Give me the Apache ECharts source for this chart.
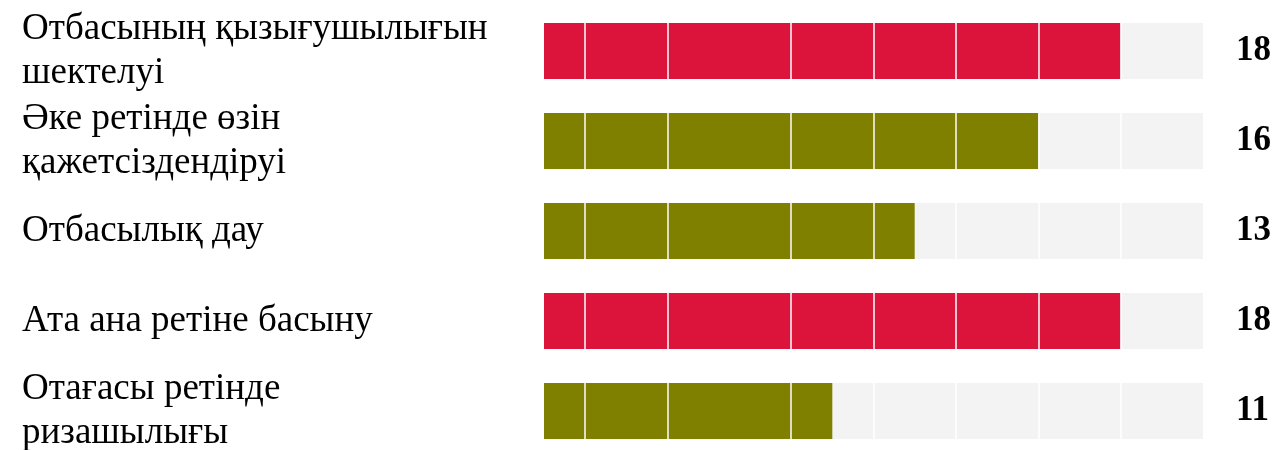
<!DOCTYPE html>
<html>
<head>
<meta charset="utf-8">
<script src="https://cdn.jsdelivr.net/npm/echarts@6/dist/echarts.min.js"></script>
<style>
html,body{margin:0;padding:0;background:#fff;overflow:hidden;width:1276px;height:450px;}
#chart{width:1276px;height:460px;}
</style>
</head>
<body>
<div id="chart"></div>
<script>
const categories = [
  'Отбасының қызығушылығын\nшектелуі',
  'Әке ретінде өзін\nқажетсіздендіруі',
  'Отбасылық дау',
  'Ата ана ретіне басыну',
  'Отағасы ретінде\nризашылығы'
];
const values = [18, 16, 13, 18, 11];
const trackMax = 20;
const axisMin = 4;
const gridValues = [5, 7, 10, 12, 14, 16, 18];

const RED = '#DC143C';
const OLIVE = '#808000';
const maxVal = Math.max(...values);

const chart = echarts.init(document.getElementById('chart'), null, {renderer: 'canvas'});
chart.setOption({
  animation: false,
  backgroundColor: '#ffffff',
  grid: {left: 544, right: 73, top: 6, height: 450, containLabel: false},
  xAxis: {
    type: 'value', min: axisMin, max: trackMax,
    show: false
  },
  yAxis: {
    type: 'category', data: categories, inverse: true,
    axisLine: {show: false}, axisTick: {show: false}, splitLine: {show: false},
    axisLabel: {
      align: 'left', margin: 522,
      fontFamily: 'Liberation Serif', fontSize: 37, color: '#000',
      lineHeight: 44
    }
  },
  series: [
    {
      type: 'bar', barWidth: 56, barGap: '-100%', silent: true,
      data: values.map(() => trackMax),
      itemStyle: {color: '#f3f3f3'},
      label: {
        show: true, position: 'right', distance: 33,
        formatter: p => String(values[p.dataIndex]),
        fontFamily: 'Liberation Serif', fontWeight: 'bold', fontSize: 35, color: '#000'
      },
      z: 1
    },
    {
      type: 'bar', barWidth: 56, barGap: '-100%',
      data: values.map(v => ({value: v, itemStyle: {color: v === maxVal ? RED : OLIVE}})),
      z: 2,
      markLine: {
        silent: true, symbol: 'none', label: {show: false},
        lineStyle: {color: '#ffffff', width: 1.5, type: 'solid'},
        data: gridValues.map(g => ({xAxis: g}))
      }
    }
  ]
});
</script>
</body>
</html>
